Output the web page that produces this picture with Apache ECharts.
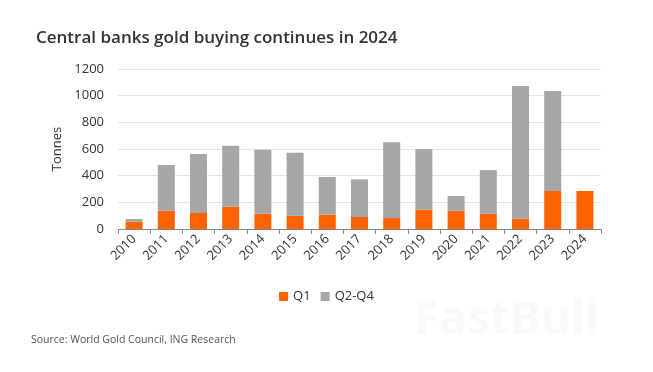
<!DOCTYPE html>
<html><head><meta charset="utf-8">
<script src="https://cdn.jsdelivr.net/npm/echarts@6/dist/echarts.min.js"></script>
<style>html,body{margin:0;padding:0;background:#fff}#c{width:653px;height:372px}</style>
</head><body><div id="c"></div>
<script>
const years = ['2010','2011','2012','2013','2014','2015','2016','2017','2018','2019','2020','2021','2022','2023','2024'];
const q1 = [55,137,120,167,115,100,107,90,82,145,137,115,77,285,285];
const q2q4 = [20,343,442,458,480,472,283,282,568,455,110,327,995,750,0];
const yTicks = [0,200,400,600,800,1000,1200];

const chart = echarts.init(document.getElementById('c'));
const font = '"Open Sans", "Noto Sans", sans-serif';
chart.setOption({
  animation: false,
  title: {
    text: 'Central banks gold buying continues in 2024',
    left: 31, top: 25,
    textStyle: {fontFamily: font, fontSize: 17, fontWeight: 600, color: '#333'}
  },
  legend: {
    data: ['Q1','Q2-Q4'], bottom: 64, left: 'center',
    itemWidth: 9, itemHeight: 9, itemGap: 10,
    icon: 'rect',
    textStyle: {fontFamily: font, fontSize: 13, color: '#333'}
  },
  grid: {left: 118, right: 52, top: 69, bottom: 143},
  xAxis: {
    type: 'category', data: years,
    axisLine: {lineStyle: {color: '#888'}},
    axisTick: {show: true, lineStyle: {color: '#888'}, length: 5},
    axisLabel: {rotate: 45, fontFamily: font, fontSize: 13, color: '#333', margin: 8}
  },
  yAxis: {
    type: 'value', min: yTicks[0], max: yTicks[yTicks.length-1], interval: 200,
    name: 'Tonnes', nameLocation: 'middle', nameGap: 49,
    nameTextStyle: {fontFamily: font, fontSize: 13, color: '#333'},
    axisLine: {show: false}, axisTick: {show: false},
    axisLabel: {fontFamily: font, fontSize: 13, color: '#333', margin: 14, formatter: v => String(v)},
    splitLine: {lineStyle: {color: '#e3e3e3'}}
  },
  series: [
    {name: 'Q1', type: 'bar', stack: 't', data: q1, barWidth: 17, itemStyle: {color: '#FF6200'}},
    {name: 'Q2-Q4', type: 'bar', stack: 't', data: q2q4, barWidth: 17, itemStyle: {color: '#A6A6A6'}}
  ],
  graphic: [
    {type: 'text', left: 31, top: 335, style: {text: 'Source: World Gold Council, ING Research', font: '10.5px ' + font, fill: '#555'}},
    {type: 'text', left: 414, top: 298, style: {text: 'FastBull', font: 'bold 46px ' + font, fill: '#f9f9f9'}}
  ]
});
</script></body></html>
